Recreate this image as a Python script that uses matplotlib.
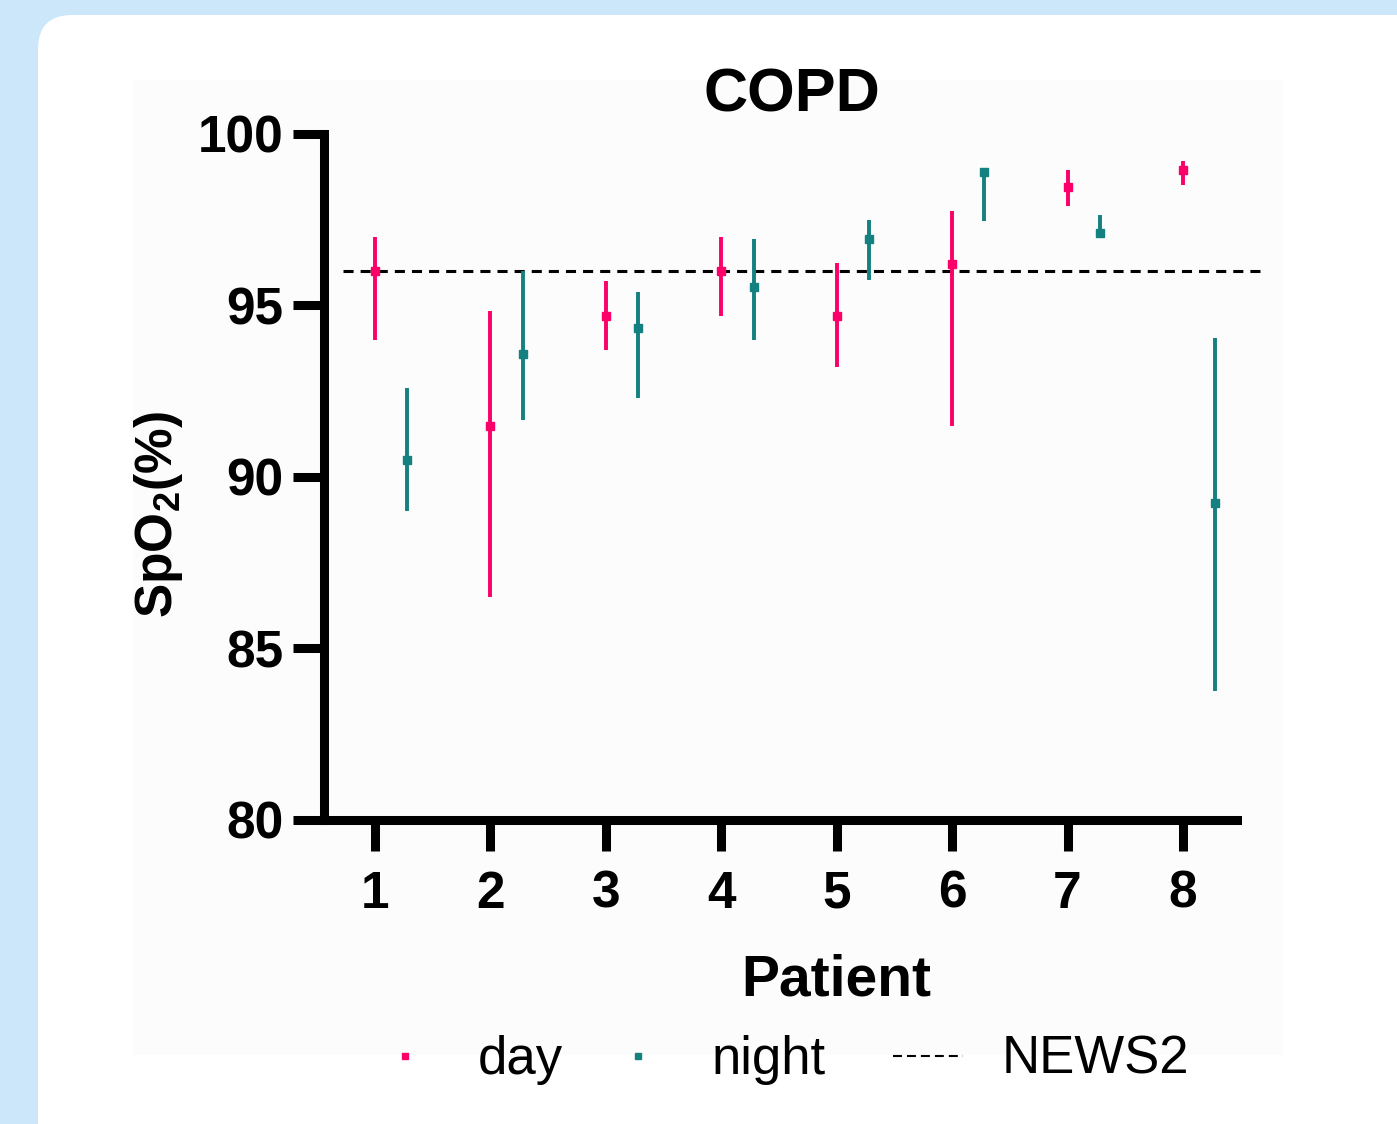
import matplotlib
matplotlib.use('Agg')
import matplotlib.pyplot as plt
from matplotlib.patches import FancyBboxPatch, Rectangle
from matplotlib.lines import Line2D
from matplotlib.transforms import IdentityTransform
import numpy as np

plt.rcParams['font.family'] = ['Liberation Sans', 'DejaVu Sans']
plt.rcParams['mathtext.fontset'] = 'custom'
plt.rcParams['mathtext.bf'] = 'Liberation Sans:bold'
plt.rcParams['mathtext.rm'] = 'Liberation Sans:bold'
plt.rcParams['mathtext.default'] = 'bf'

# data
patients = [1, 2, 3, 4, 5, 6, 7, 8]
day_mean = [96.0, 91.5, 94.7, 96.0, 94.7, 96.2, 98.45, 98.95]
day_low = [94.0, 86.5, 93.7, 94.7, 93.2, 91.5, 97.9, 98.5]
day_high = [97.0, 94.85, 95.7, 97.0, 96.25, 97.75, 98.95, 99.2]
night_mean = [90.5, 93.6, 94.35, 95.55, 96.95, 98.9, 97.1, 89.25]
night_low = [89.0, 91.65, 92.3, 94.0, 95.75, 97.45, 97.0, 83.75]
night_high = [92.6, 96.0, 95.4, 96.95, 97.5, 98.95, 97.65, 94.05]
news2 = 96
y_ticks = [80, 85, 90, 95, 100]
legend_labels = ['day', 'night', 'NEWS2']

day_color = '#fa0068'
night_color = '#14807f'
W, H = 1397, 1124

fig = plt.figure(figsize=(W / 100, H / 100), dpi=100)
fig.patch.set_facecolor('#cce6fa')

# white rounded panel (pixel coords), kept behind the axes
panel = FancyBboxPatch((38, -40), 1450, H - 15 + 40, boxstyle='round,pad=0,rounding_size=34',
                       transform=IdentityTransform(), facecolor='white', edgecolor='none', zorder=-10)
fig.patches.append(panel)
inner = Rectangle((133, H - 1055), 1283 - 133, 1055 - 80, transform=IdentityTransform(),
                  facecolor='#fcfcfc', edgecolor='none', zorder=-9)
fig.patches.append(inner)

ax = fig.add_axes([324 / W, 1 - 820 / H, (1237 - 324) / W, (820 - 134) / H])
ax.set_facecolor('none')

x = np.array(patients, dtype=float)
dm = np.array(day_mean)
nm = np.array(night_mean)
ax.errorbar(x, dm, yerr=[dm - np.array(day_low), np.array(day_high) - dm], fmt='s',
            color=day_color, ms=6.0, elinewidth=2.8, capsize=0, zorder=3)
ax.errorbar(x + 0.28, nm, yerr=[nm - np.array(night_low), np.array(night_high) - nm], fmt='s',
            color=night_color, ms=5.2, elinewidth=2.8, capsize=0, zorder=3)
ax.hlines(news2, 0.72, 8.67, colors='black', linewidth=2.2, linestyles=(0, (3.3, 2.3)),
          clip_on=False, zorder=2)

ax.set_xlim(0.558, 8.468)
ax.set_ylim(80, 100)
ax.set_xticks(patients)
ax.set_yticks(y_ticks)
for s in ['top', 'right']:
    ax.spines[s].set_visible(False)
for s in ['left', 'bottom']:
    ax.spines[s].set_linewidth(6.5)
    ax.spines[s].set_capstyle('projecting')
ax.tick_params(axis='both', width=6.5, length=22, labelsize=37)
ax.tick_params(axis='x', pad=14)
ax.tick_params(axis='y', pad=7)
for lab in ax.get_xticklabels() + ax.get_yticklabels():
    lab.set_fontweight('bold')

ax.set_ylabel('SpO$_2$(%)', fontsize=37, fontweight='bold')
ax.yaxis.set_label_coords(-0.152, 0.445)

fig.text(792 / W, 1 - 112 / H, 'COPD', ha='center', va='baseline', fontsize=44, fontweight='bold')
fig.text(836 / W, 1 - 995 / H, 'Patient', ha='center', va='baseline', fontsize=41, fontweight='bold')

# legend entries placed one by one, as in the original layout
handles = [
    Line2D([], [], marker='s', ls='none', color=day_color, ms=4.5),
    Line2D([], [], marker='s', ls='none', color=night_color, ms=4.5),
    Line2D([], [], color='black', lw=1.5, dashes=(4.3, 2.4)),
]
leg_x = [370, 603, 893]
for h, lab, lx in zip(handles, legend_labels, leg_x):
    leg = fig.legend([h], [lab], loc='center left', frameon=False, fontsize=38,
                     handlelength=1.33, handletextpad=0.72, borderpad=0, borderaxespad=0,
                     bbox_to_anchor=(lx / W, 1 - 1060 / H), bbox_transform=fig.transFigure)

fig.savefig('out.png', dpi=100, facecolor=fig.get_facecolor())
